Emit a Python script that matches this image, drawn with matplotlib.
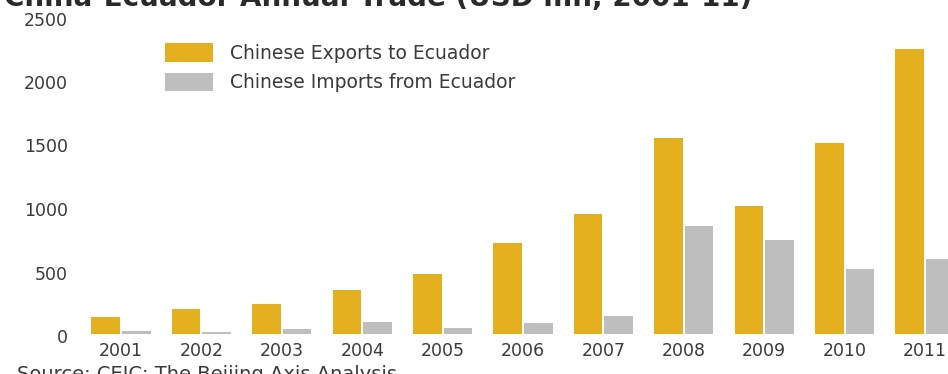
import matplotlib
matplotlib.use("Agg")
import matplotlib.pyplot as plt
from matplotlib.transforms import ScaledTranslation
import numpy as np

years = ["2001", "2002", "2003", "2004", "2005", "2006",
         "2007", "2008", "2009", "2010", "2011"]
exports = [135, 195, 240, 344, 469, 719, 947, 1546, 1010, 1504, 2242]
imports = [26, 15, 39, 91, 45, 88, 141, 853, 743, 512, 588]
y_ticks = [0, 500, 1000, 1500, 2000, 2500]

title = "China-Ecuador Annual Trade (USD mn, 2001-11)"
source = "Source: CEIC; The Beijing Axis Analysis"
labels = ["Chinese Exports to Ecuador", "Chinese Imports from Ecuador"]

GOLD = "#E5B01F"
GRAY = "#BEBEBE"
TXT = "#3a3a3a"

plt.rcParams["font.family"] = ["DejaVu Sans"]
W, H = 948, 374
fig = plt.figure(figsize=(W / 100, H / 100), dpi=100)

# axes geometry in pixels
xmin, xmax = -0.4, 10.6
step = 80.4
left_px = 121 - (0 - xmin) * step
width_px = (xmax - xmin) * step
base_px = 334
top_px = 334 - 2500 * 0.127
ax = fig.add_axes([left_px / W, (H - base_px) / H, width_px / W, (base_px - top_px) / H])

x = np.arange(len(years))
bw = 0.355
b1 = ax.bar(x - 0.19, exports, width=bw, color=GOLD, linewidth=0)
b2 = ax.bar(x + 0.19, imports, width=bw, color=GRAY, linewidth=0)

ax.set_xlim(xmin, xmax)
ax.set_ylim(0, 2500)
ax.set_yticks(y_ticks)
ax.set_yticklabels([str(v) for v in y_ticks])
ax.set_xticks(x)
ax.set_xticklabels(years)
for s in ax.spines.values():
    s.set_visible(False)
ax.tick_params(axis="y", length=0, pad=15, labelsize=12.5, labelcolor=TXT)
ax.tick_params(axis="x", length=0, pad=6, labelsize=12.5, labelcolor=TXT)
off = ScaledTranslation(0, -2 / 100, fig.dpi_scale_trans)
for lab in ax.get_yticklabels():
    lab.set_transform(lab.get_transform() + off)

fs = 13.5
fpx = fs * 100 / 72
leg = ax.legend([b1, b2], labels, loc="upper left",
                bbox_to_anchor=(165 / W, 1 - 43.3 / H), bbox_transform=fig.transFigure,
                frameon=False, fontsize=fs, borderpad=0, borderaxespad=0,
                handlelength=48 / fpx, handleheight=21 / fpx,
                labelspacing=10 / fpx, handletextpad=17 / fpx, labelcolor=TXT)

fig.text(4 / W, 1 - 6 / H, title, fontsize=20, fontweight="bold", color="#2a2a2a",
         ha="left", va="baseline")
fig.text(17 / W, 1 - 380 / H, source, fontsize=14, color=TXT, ha="left", va="baseline")

fig.savefig("out.png", dpi=100)
